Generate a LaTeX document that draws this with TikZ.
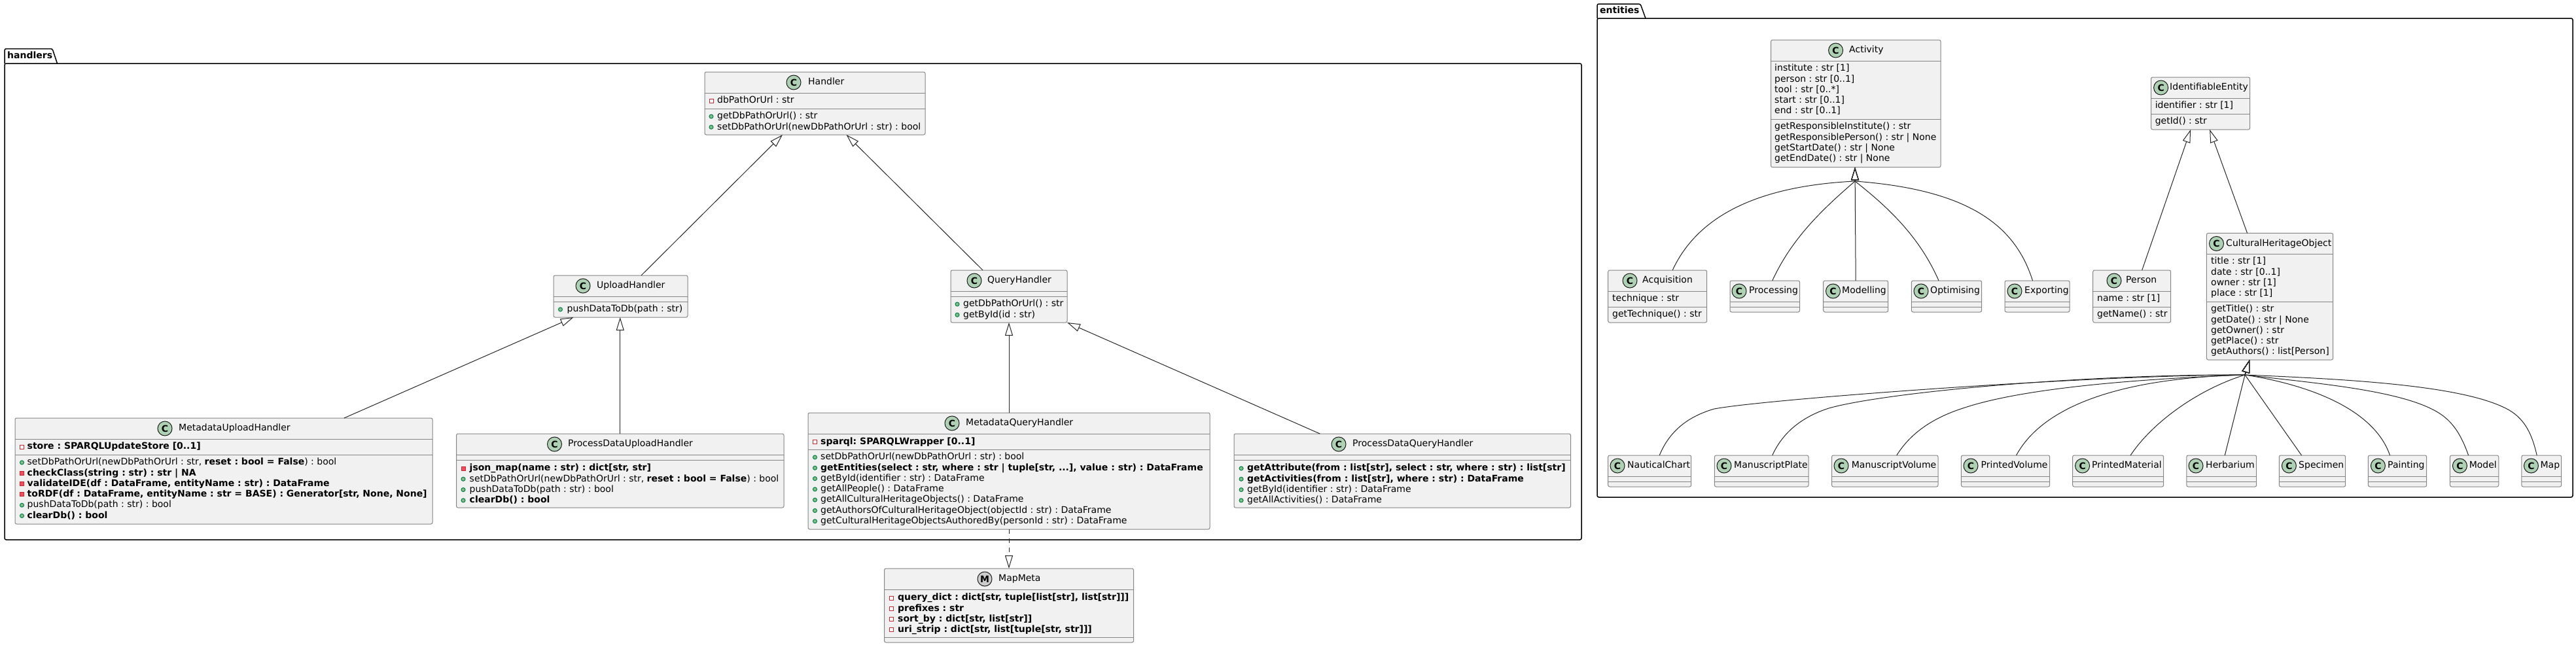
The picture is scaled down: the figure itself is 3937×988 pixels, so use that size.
\documentclass[tikz,border=0pt]{standalone}
\usepackage{fontspec}
\setmainfont{DejaVu Sans}
\usetikzlibrary{arrows.meta}
\definecolor{boxfill}{HTML}{F1F1F1}
\definecolor{boxline}{HTML}{858585}
\definecolor{spotgreen}{HTML}{ADD1B2}
\definecolor{spotgrey}{HTML}{CCCCCC}
\definecolor{pubfill}{HTML}{84BE84}
\definecolor{publine}{HTML}{038048}
\definecolor{privfill}{HTML}{F24D5C}
\definecolor{privline}{HTML}{C82930}
\tikzset{
	classbody/.style={draw=boxline, fill=boxfill, line width=1pt, rounded corners=2.5pt, inner sep=0pt, outer sep=0pt, anchor=north west},
	sepline/.style={draw=boxline, line width=1pt},
	spotC/.style={draw=black!90, fill=spotgreen, circle, line width=1pt, minimum size=22pt, inner sep=0pt, font=\fontsize{14}{16}\selectfont\bfseries},
	spotM/.style={spotC, fill=spotgrey},
	memberline/.style={anchor=west, inner sep=0pt, text height=10.5pt, text depth=3pt, font=\fontsize{14}{16}\selectfont\frenchspacing},
	pub/.style={draw=publine, fill=pubfill, circle, line width=1pt, minimum size=6pt, inner sep=0pt},
	prf/.style={draw=privline, fill=white, line width=1pt, minimum size=6pt, inner sep=0pt},
	prm/.style={draw=privline, fill=privfill, line width=1pt, minimum size=6pt, inner sep=0pt},
	pack/.style={draw=black, line width=1.5pt, rounded corners=2.5pt},
	packlabel/.style={anchor=west, inner sep=0pt, text height=10.5pt, text depth=3pt, font=\fontsize{14}{16}\selectfont\bfseries},
	inherit/.style={draw=black!85, line width=1pt, -{Triangle[open, length=20pt, width=12pt]}},
	realize/.style={inherit, dash pattern=on 7pt off 7pt},
}
\newcommand{\classbox}[9][C]{%
	\node[classbody, minimum width={(#3-#2)*1pt}, minimum height={(#6-#4)*1pt}] (#9) at (#2,#4) {};
	\draw[sepline] (#2,#4+32) -- (#3,#4+32);
	\draw[sepline] (#2,#5) -- (#3,#5);
	\node[spot#1] (#9-spot) at (#7,#4+16) {#1};
	\node[memberline] (#9-title) at (#8,#4+16) {#9};
}
\newcommand{\members}[5]{%
	\foreach \vis/\txt [count=\n] in {#5} {
		\node[\vis] (#1-icon\n) at (#2,{#4+(\n-1)*16.297}) {};
		\node[memberline] (#1-\n) at (#3,{#4+(\n-1)*16.297}) {\txt};
	}
}
\newcommand{\plainlines}[4]{%
	\foreach \txt [count=\n] in {#4} {
		\node[memberline] (#1-\n) at (#2,{#3+(\n-1)*16.297}) {\txt};
	}
}
\begin{document}
\begin{tikzpicture}[x=1pt, y=-1pt]
	\useasboundingbox (0,0) rectangle (3937,988);
	\node[pack, anchor=north west, minimum width=2410pt, minimum height=728pt, inner sep=0pt, outer sep=0pt] (handlers) at (7,97) {};
	\draw[pack] (7,97) -- (7,74.5) -- (80,74.5) -- (87.5,97);
	\node[packlabel] (handlers-label) at (11,86) {handlers};
	\node[pack, anchor=north west, minimum width=1491pt, minimum height=732pt, inner sep=0pt, outer sep=0pt] (entities) at (2441,28) {};
	\draw[pack] (2441,28) -- (2441,6) -- (2507,6) -- (2515,28);
	\node[packlabel] (entities-label) at (2445,17) {entities};

	\classbox{1077}{1414}{110}{166}{206}{1213}{1235}{Handler}
	\members{Handler-a}{1087}{1096}{154}{prf/{dbPathOrUrl : str}}
	\members{Handler-m}{1087}{1096}{178}{pub/{getDbPathOrUrl() : str},pub/{setDbPathOrUrl(newDbPathOrUrl : str) : bool}}
	\classbox{846}{1051}{421}{461}{485}{891}{912}{UploadHandler}
	\members{UploadHandler-m}{856.5}{866.5}{473}{pub/{pushDataToDb(path : str)}}
	\classbox{1453}{1631}{413}{453}{493}{1489}{1509}{QueryHandler}
	\members{QueryHandler-m}{1463}{1472}{465}{pub/{getDbPathOrUrl() : str},pub/{getById(id : str)}}
	\classbox{23}{661}{639}{695}{801}{252}{273}{MetadataUploadHandler}
	\members{MetadataUploadHandler-a}{33.5}{41.5}{683}{prf/{\textbf{store : SPARQLUpdateStore [0..1]}}}
	\members{MetadataUploadHandler-m}{33.5}{41.5}{707}{
		pub/{setDbPathOrUrl(newDbPathOrUrl : str, \textbf{reset : bool = False}) : bool},
		prm/{\textbf{checkClass(string : str) : str | NA}},
		prm/{\textbf{validateIDE(df : DataFrame, entityName : str) : DataFrame}},
		prm/{\textbf{toRDF(df : DataFrame, entityName : str = BASE) : Generator[str, None, None]}},
		pub/{pushDataToDb(path : str) : bool},
		pub/{\textbf{clearDb() : bool}}}
	\classbox{697.5}{1198}{663}{703}{776}{847.5}{868}{ProcessDataUploadHandler}
	\members{ProcessDataUploadHandler-m}{708}{717.5}{716}{
		prm/{\textbf{json\_map(name : str) : dict[str, str]}},
		pub/{setDbPathOrUrl(newDbPathOrUrl : str, \textbf{reset : bool = False}) : bool},
		pub/{pushDataToDb(path : str) : bool},
		pub/{\textbf{clearDb() : bool}}}
	\classbox{1235}{1849}{631}{687}{809}{1455}{1476}{MetadataQueryHandler}
	\members{MetadataQueryHandler-a}{1245.5}{1254}{675.5}{prf/{\textbf{sparql: SPARQLWrapper [0..1]}}}
	\members{MetadataQueryHandler-m}{1245.5}{1254}{699}{
		pub/{setDbPathOrUrl(newDbPathOrUrl : str) : bool},
		pub/{\textbf{getEntities(select : str, where : str | tuple[str, ...], value : str) : DataFrame}},
		pub/{getById(identifier : str) : DataFrame},
		pub/{getAllPeople() : DataFrame},
		pub/{getAllCulturalHeritageObjects() : DataFrame},
		pub/{getAuthorsOfCulturalHeritageObject(objectId : str) : DataFrame},
		pub/{getCulturalHeritageObjectsAuthoredBy(personId : str) : DataFrame}}
	\classbox{1886}{2400.5}{663}{703}{776}{2046}{2067}{ProcessDataQueryHandler}
	\members{ProcessDataQueryHandler-m}{1897}{1906}{716}{
		pub/{\textbf{getAttribute(from : list[str], select : str, where : str) : list[str]}},
		pub/{\textbf{getActivities(from : list[str], where : str) : DataFrame}},
		pub/{getById(identifier : str) : DataFrame},
		pub/{getAllActivities() : DataFrame}}
	\classbox[M]{1351.5}{1732.5}{869}{974}{982}{1505}{1526}{MapMeta}
	\members{MapMeta-a}{1362.6}{1372}{914}{
		prf/{\textbf{query\_dict : dict[str, tuple[list[str], list[str]]]}},
		prf/{\textbf{prefixes : str}},
		prf/{\textbf{sort\_by : dict[str, list[str]]}},
		prf/{\textbf{uri\_strip : dict[str, list[tuple[str, str]]]}}}

	\draw[inherit] ([xshift=31.5pt]UploadHandler.north) -- ([xshift=-49.5pt]Handler.south);
	\draw[inherit] ([xshift=-40pt]QueryHandler.north) -- ([xshift=48pt]Handler.south);
	\draw[inherit] ([xshift=184pt]MetadataUploadHandler.north) -- ([xshift=-72pt]UploadHandler.south);
	\draw[inherit] (ProcessDataUploadHandler.north) -- (ProcessDataUploadHandler.north |- UploadHandler.south);
	\draw[inherit] (MetadataQueryHandler.north) -- (QueryHandler.south);
	\draw[inherit] ([xshift=-126pt]ProcessDataQueryHandler.north) -- (QueryHandler.south east);
	\draw[realize] (MetadataQueryHandler.south) -- (MapMeta.north);

	\classbox{2706.6}{2966}{61}{182}{255.7}{2805.6}{2826}{Activity}
	\plainlines{Activity-a}{2712}{105}{institute : str [1],person : str [0..1],tool : str [0..*],start : str [0..1],end : str [0..1]}
	\plainlines{Activity-m}{2712}{194}{getResponsibleInstitute() : str,getResponsiblePerson() : str | None,getStartDate() : str | None,getEndDate() : str | None}
	\classbox{2457.7}{2608.7}{413}{469}{493}{2491}{2510}{Acquisition}
	\plainlines{Acquisition-a}{2464}{457}{technique : str}
	\plainlines{Acquisition-m}{2464}{481}{getTechnique() : str}
	\classbox{2644}{2750.5}{429}{469}{477}{2658}{2673}{Processing}
	\classbox{2786.7}{2885.7}{429}{469}{477}{2801.5}{2815}{Modelling}
	\classbox{2921.4}{3028.6}{429}{469}{477}{2936}{2950}{Optimising}
	\classbox{3064}{3163}{429}{469}{477}{3079}{3094}{Exporting}
	\classbox{3287.5}{3438.7}{118}{174}{198}{3302.6}{3316}{IdentifiableEntity}
	\plainlines{IdentifiableEntity-a}{3293.6}{162}{identifier : str [1]}
	\plainlines{IdentifiableEntity-m}{3293.6}{186}{getId() : str}
	\classbox{3198.7}{3317.7}{413}{469}{493}{3231}{3249}{Person}
	\plainlines{Person-a}{3205}{457}{name : str [1]}
	\plainlines{Person-m}{3205}{481}{getName() : str}
	\classbox{3372.4}{3565.7}{356.4}{461}{550}{3387.5}{3402}{CulturalHeritageObject}
	\plainlines{CulturalHeritageObject-a}{3379}{400}{title : str [1],date : str [0..1],owner : str [1],place : str [1]}
	\plainlines{CulturalHeritageObject-m}{3379}{473}{getTitle() : str,getDate() : str | None,getOwner() : str,getPlace() : str,getAuthors() : list[Person]}
	\classbox{2457.7}{2584.7}{696}{736}{744}{2472}{2487}{NauticalChart}
	\classbox{2620.4}{2764}{696}{736}{744}{2635}{2650}{ManuscriptPlate}
	\classbox{2799.5}{2962}{696}{736}{744}{2814}{2829.6}{ManuscriptVolume}
	\classbox{2997.4}{3132.7}{696}{736}{744}{3012}{3027.5}{PrintedVolume}
	\classbox{3167.6}{3306.6}{696}{736}{744}{3182.6}{3197}{PrintedMaterial}
	\classbox{3341.8}{3448.7}{696}{736}{744}{3356}{3371}{Herbarium}
	\classbox{3483.3}{3584.7}{696}{736}{744}{3498.4}{3513}{Specimen}
	\classbox{3619.4}{3708.7}{696}{736}{744}{3634.4}{3649}{Painting}
	\classbox{3744.4}{3818.7}{696}{736}{744}{3759.4}{3773.5}{Model}
	\classbox{3853.8}{3914.6}{696}{736}{744}{3868.4}{3882.4}{Map}

	\coordinate (activityjoin) at (2835,277);
	\coordinate (heritagejoin) at (3431,573);
	\draw[inherit] ([xshift=23pt]Acquisition.north) .. controls (2590,340) and (2670,285) .. (activityjoin) -- (Activity.south -| activityjoin);
	\draw[inherit] ([xshift=11.5pt]Processing.north) .. controls (2738,365) and (2785,320) .. (activityjoin) -- (Activity.south -| activityjoin);
	\draw[inherit] (Modelling.north) -- (Activity.south -| activityjoin);
	\draw[inherit] ([xshift=-12pt]Optimising.north) .. controls (2935,365) and (2890,320) .. (activityjoin) -- (Activity.south -| activityjoin);
	\draw[inherit] ([xshift=-7pt]Exporting.north) .. controls (3080,345) and (3010,290) .. (activityjoin) -- (Activity.south -| activityjoin);
	\draw[inherit] ([xshift=15.5pt]Person.north) -- ([xshift=-15pt]IdentifiableEntity.south);
	\draw[inherit] ([xshift=-34.5pt]CulturalHeritageObject.north) -- ([xshift=14pt]IdentifiableEntity.south);
	\draw[inherit] ([xshift=15pt]NauticalChart.north) .. controls (2553,655) and (2585,635) .. (2620,625) .. controls (2700,610) and (3200,573) .. (heritagejoin) -- ([xshift=-31pt]CulturalHeritageObject.south);
	\draw[inherit] ([xshift=16.5pt]ManuscriptPlate.north) .. controls (2725,660) and (2755,637) .. (2795,624) .. controls (2880,600) and (3180,572) .. (heritagejoin) -- ([xshift=-31pt]CulturalHeritageObject.south);
	\draw[inherit] ([xshift=18pt]ManuscriptVolume.north) .. controls (2918,665) and (2950,640) .. (3000,624) .. controls (3100,590) and (3300,578) .. (heritagejoin) -- ([xshift=-31pt]CulturalHeritageObject.south);
	\draw[inherit] ([xshift=16.5pt]PrintedVolume.north) .. controls (3120,625) and (3230,578) .. (heritagejoin) -- ([xshift=-31pt]CulturalHeritageObject.south);
	\draw[inherit] ([xshift=19pt]PrintedMaterial.north) .. controls (3290,645) and (3360,595) .. (heritagejoin) -- ([xshift=-31pt]CulturalHeritageObject.south);
	\draw[inherit] ([xshift=5pt]Herbarium.north) -- (heritagejoin) -- ([xshift=-31pt]CulturalHeritageObject.south);
	\draw[inherit] ([xshift=-16.5pt]Specimen.north) -- (heritagejoin) -- ([xshift=-31pt]CulturalHeritageObject.south);
	\draw[inherit] ([xshift=-11.5pt]Painting.north) .. controls (3630,630) and (3540,590) .. (heritagejoin) -- ([xshift=-31pt]CulturalHeritageObject.south);
	\draw[inherit] ([xshift=-9pt]Model.north) .. controls (3760,660) and (3745,640) .. (3720,627) .. controls (3660,595) and (3530,585) .. (heritagejoin) -- ([xshift=-31pt]CulturalHeritageObject.south);
	\draw[inherit] ([xshift=-7pt]Map.north) .. controls (3870,665) and (3860,642) .. (3835,627) .. controls (3770,590) and (3600,580) .. (heritagejoin) -- ([xshift=-31pt]CulturalHeritageObject.south);
\end{tikzpicture}
\end{document}
